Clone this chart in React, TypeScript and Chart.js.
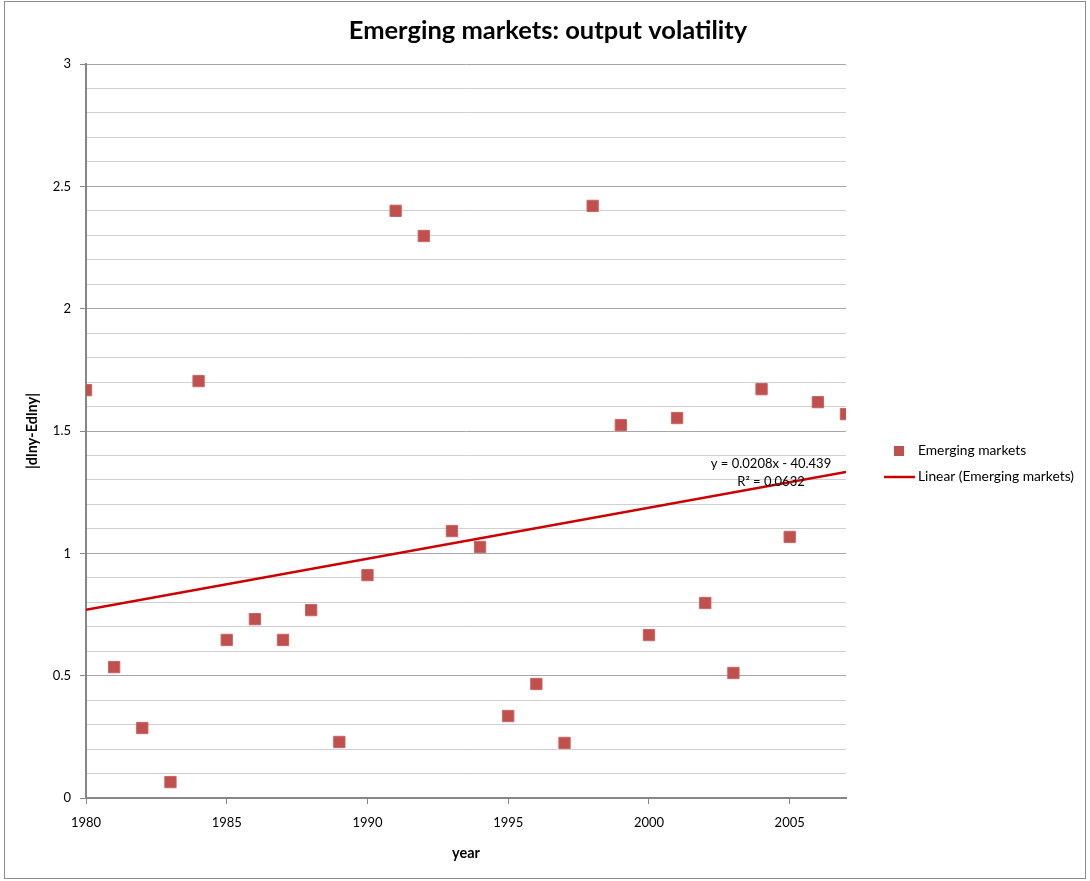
import React, { useEffect, useRef } from 'react';
import { Chart, registerables } from 'chart.js';

Chart.register(...registerables);

const years = [
  1980, 1981, 1982, 1983, 1984, 1985, 1986, 1987, 1988, 1989,
  1990, 1991, 1992, 1993, 1994, 1995, 1996, 1997, 1998, 1999,
  2000, 2001, 2002, 2003, 2004, 2005, 2006, 2007,
];
const volatility = [
  1.667, 0.535, 0.286, 0.065, 1.704, 0.646, 0.731, 0.646, 0.768, 0.229,
  0.911, 2.4, 2.297, 1.091, 1.026, 0.335, 0.466, 0.225, 2.42, 1.524,
  0.666, 1.553, 0.797, 0.511, 1.671, 1.067, 1.618, 1.569,
];
const xRange = [1980, 2007];
const yRange = [0, 3];
const chartTitle = 'Emerging markets: output volatility';
const xTitle = 'year';
const yTitle = '|dlny-Edlny|';
const seriesLabel = 'Emerging markets';
const trendLabel = 'Linear (Emerging markets)';
const equationLines = ['y = 0.0208x - 40.439', 'R² = 0.0632'];

const FONT = 'Lato, "Open Sans", sans-serif';
const MARKER = '#c0504d';
const TREND = '#cc0000';
const AXIS = '#868686';

function linearFit(xs: number[], ys: number[]) {
  const n = xs.length;
  const mx = xs.reduce((a, b) => a + b, 0) / n;
  const my = ys.reduce((a, b) => a + b, 0) / n;
  let sxy = 0;
  let sxx = 0;
  for (let i = 0; i < n; i++) {
    sxy += (xs[i] - mx) * (ys[i] - my);
    sxx += (xs[i] - mx) * (xs[i] - mx);
  }
  const slope = sxy / sxx;
  return { slope, intercept: my - slope * mx };
}

const isMajor = (v: number) => Math.abs(v * 2 - Math.round(v * 2)) < 1e-6;

const decorPlugin = {
  id: 'decor',
  beforeDraw(chart: any) {
    const ctx = chart.ctx;
    ctx.save();
    ctx.fillStyle = '#ffffff';
    ctx.fillRect(0, 0, chart.width, chart.height);
    ctx.strokeStyle = '#8c8c8c';
    ctx.lineWidth = 1;
    ctx.strokeRect(4.5, 1.5, 1081, 877);
    ctx.restore();
  },
  afterDraw(chart: any) {
    const ctx = chart.ctx;
    ctx.save();
    // title
    ctx.fillStyle = '#000';
    ctx.font = `bold 25.5px ${FONT}`;
    ctx.textAlign = 'center';
    ctx.textBaseline = 'middle';
    ctx.fillText(chartTitle, 548, 31);

    // equation
    ctx.font = `13px ${FONT}`;
    ctx.fillText(equationLines[0], 771, 464);
    ctx.fillText(equationLines[1], 771, 482);

    // legend
    ctx.font = `13.8px ${FONT}`;
    ctx.textAlign = 'left';
    ctx.fillStyle = MARKER;
    ctx.fillRect(894, 446, 10, 10);
    ctx.strokeStyle = TREND;
    ctx.lineWidth = 2.5;
    ctx.beginPath();
    ctx.moveTo(884, 477);
    ctx.lineTo(915, 477);
    ctx.stroke();
    ctx.fillStyle = '#000';
    ctx.fillText(seriesLabel, 918, 451);
    ctx.fillText(trendLabel, 918, 477);
    ctx.restore();
  },
};

export default function App() {
  const ref = useRef<HTMLCanvasElement | null>(null);

  useEffect(() => {
    if (!ref.current) return;
    const fit = linearFit(years, volatility);
    const trendData = xRange.map((x) => ({ x, y: fit.slope * x + fit.intercept }));
    const points = years.map((x, i) => ({ x, y: volatility[i] }));

    const chart = new Chart(ref.current, {
      type: 'scatter',
      data: {
        datasets: [
          {
            label: trendLabel,
            data: trendData,
            showLine: true,
            borderColor: TREND,
            borderWidth: 2.5,
            pointRadius: 0,
            order: 0,
          } as any,
          {
            label: seriesLabel,
            data: points,
            pointStyle: 'rect',
            pointRadius: 8,
            backgroundColor: MARKER,
            borderColor: '#c96462',
            borderWidth: 1,
            order: 1,
          },
        ],
      },
      options: {
        animation: false,
        responsive: false,
        devicePixelRatio: 1,
        layout: { padding: { left: 0, top: 64, right: 244, bottom: 0 } },
        plugins: {
          legend: { display: false },
          title: { display: false },
          tooltip: { enabled: false },
        },
        scales: {
          x: {
            type: 'linear',
            min: xRange[0],
            max: xRange[1],
            afterFit(scale: any) {
              scale.height = 83;
            },
            ticks: {
              stepSize: 5,
              includeBounds: false,
              color: '#000',
              padding: 11,
              maxRotation: 0,
              font: { family: FONT, size: 13 },
              callback: (v: any) => String(v),
            },
            grid: {
              display: true,
              drawOnChartArea: false,
              drawTicks: true,
              tickLength: 6,
              tickColor: AXIS,
              tickWidth: 1,
            },
            border: { display: true, color: AXIS, width: 2 },
            title: {
              display: true,
              text: xTitle,
              color: '#000',
              font: { family: FONT, size: 14.5, weight: 'bold' },
              padding: { top: 0, bottom: 19 },
            },
          },
          y: {
            type: 'linear',
            min: yRange[0],
            max: yRange[1],
            afterFit(scale: any) {
              scale.width = 86;
            },
            ticks: {
              stepSize: 0.1,
              color: '#000',
              padding: 9,
              font: { family: FONT, size: 13 },
              callback: (v: any) => (isMajor(Number(v)) ? String(Math.round(Number(v) * 10) / 10) : ''),
            },
            grid: {
              color: (c: any) => (c.tick && isMajor(c.tick.value) ? '#a6a6a6' : '#d0d0d0'),
              lineWidth: 1,
              drawTicks: true,
              tickLength: 6,
              tickColor: (c: any) => (c.tick && isMajor(c.tick.value) ? AXIS : 'rgba(0,0,0,0)'),
            },
            border: { display: true, color: AXIS, width: 2 },
            title: {
              display: true,
              text: yTitle,
              color: '#000',
              font: { family: FONT, size: 14.5, weight: 'bold' },
              padding: { top: 24, bottom: 0 },
            },
          },
        },
      },
      plugins: [decorPlugin],
    });
    return () => chart.destroy();
  }, []);

  return (
    <div style={{ position: 'absolute', left: 0, top: 0, width: 1090, height: 881 }}>
      <canvas ref={ref} width={1090} height={881} />
    </div>
  );
}
